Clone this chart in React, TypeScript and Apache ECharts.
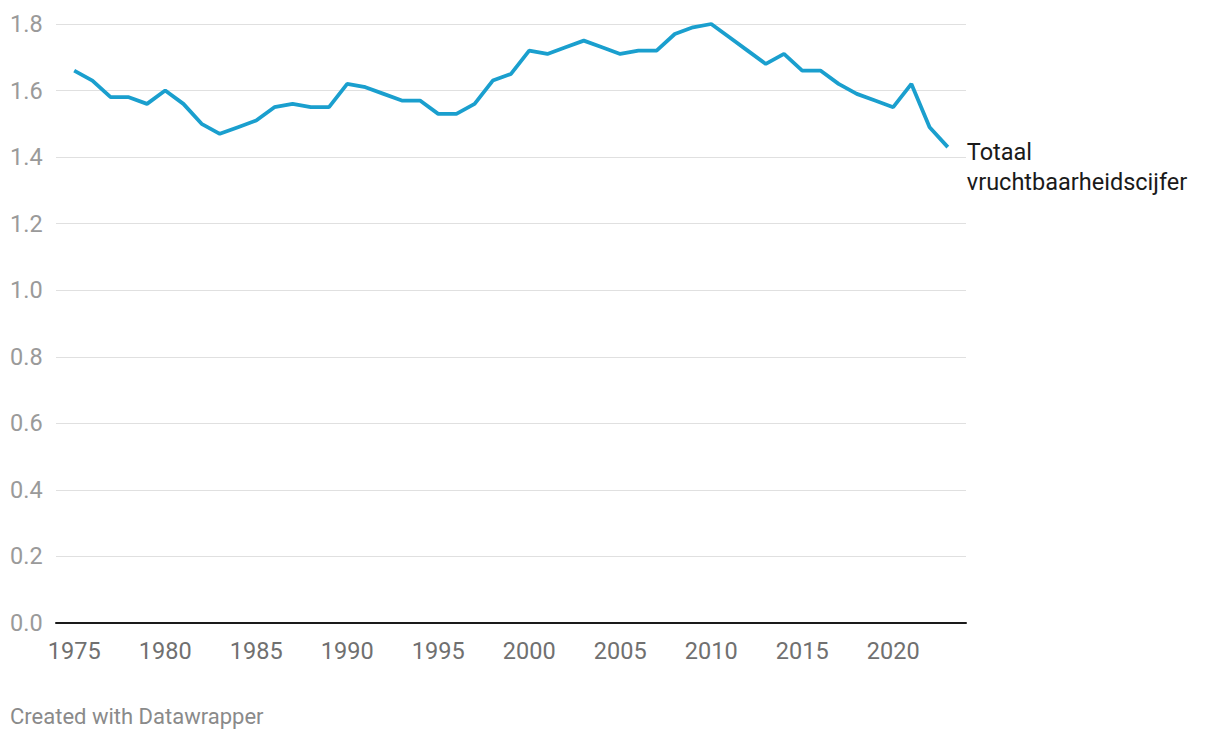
import React, { useEffect, useRef } from "react";
import * as echarts from "echarts";

const years: number[] = [
  1975, 1976, 1977, 1978, 1979, 1980, 1981, 1982, 1983, 1984, 1985, 1986, 1987,
  1988, 1989, 1990, 1991, 1992, 1993, 1994, 1995, 1996, 1997, 1998, 1999, 2000,
  2001, 2002, 2003, 2004, 2005, 2006, 2007, 2008, 2009, 2010, 2011, 2012, 2013,
  2014, 2015, 2016, 2017, 2018, 2019, 2020, 2021, 2022, 2023,
];

const tfr: number[] = [
  1.66, 1.63, 1.58, 1.58, 1.56, 1.6, 1.56, 1.5, 1.47, 1.49, 1.51, 1.55, 1.56,
  1.55, 1.55, 1.62, 1.61, 1.59, 1.57, 1.57, 1.53, 1.53, 1.56, 1.63, 1.65, 1.72,
  1.71, 1.73, 1.75, 1.73, 1.71, 1.72, 1.72, 1.77, 1.79, 1.8, 1.76, 1.72, 1.68,
  1.71, 1.66, 1.66, 1.62, 1.59, 1.57, 1.55, 1.62, 1.49, 1.43,
];

const xTickLabels: number[] = [1975, 1980, 1985, 1990, 1995, 2000, 2005, 2010, 2015, 2020];

const seriesName = "Totaal\nvruchtbaarheidscijfer";
const footer = "Created with Datawrapper";

export default function App() {
  const ref = useRef<HTMLDivElement>(null);

  useEffect(() => {
    if (!ref.current) return;
    const chart = echarts.init(ref.current, null, { renderer: "svg" });
    const font = "Roboto, 'Noto Sans', sans-serif";
    chart.setOption({
      animation: false,
      textStyle: { fontFamily: font },
      grid: { left: 56, right: 254, top: 24, bottom: 117, containLabel: false },
      xAxis: {
        type: "value",
        min: 1974,
        max: 2024,
        splitLine: { show: false },
        axisTick: { show: false },
        axisLine: { show: true, onZero: false, lineStyle: { color: "#1a1a1a", width: 2 } },
        axisLabel: {
          customValues: xTickLabels,
          color: "#707070",
          fontSize: 23.5,
          fontFamily: font,
          margin: 16,
          formatter: (v: number) => String(v),
        },
      },
      yAxis: {
        type: "value",
        min: 0,
        max: 1.8,
        interval: 0.2,
        axisLine: { show: false },
        axisTick: { show: false },
        splitLine: { lineStyle: { color: "#e0e0e0", width: 1 } },
        axisLabel: {
          color: "#9a9a9a",
          fontSize: 23.5,
          fontFamily: font,
          align: "left",
          margin: 46,
          formatter: (v: number) => (v === 0 ? "" : v.toFixed(1)),
        },
      },
      series: [
        {
          type: "line",
          name: seriesName,
          data: years.map((y, i) => [y, tfr[i]]),
          symbol: "none",
          lineStyle: { color: "#1a9fce", width: 3.8 },
          itemStyle: { color: "#1a9fce" },
          endLabel: {
            show: true,
            formatter: seriesName,
            color: "#1a1a1a",
            fontSize: 23.5,
            fontFamily: font,
            lineHeight: 30,
            distance: 0,
            offset: [19, 20],
            align: "left",
            verticalAlign: "middle",
          },
          z: 3,
        },
      ],
      graphic: [
        {
          type: "text",
          left: 10,
          top: 611,
          style: { text: "0.0", fill: "#9a9a9a", font: `23.5px ${font}` },
        },
        {
          type: "text",
          left: 10,
          top: 705,
          style: { text: footer, fill: "#8a8a8a", font: `22px ${font}` },
        },
      ],
    });
    return () => chart.dispose();
  }, []);

  return (
    <div
      ref={ref}
      style={{ position: "fixed", left: 0, top: 0, width: 1220, height: 740, background: "#fff" }}
    />
  );
}
